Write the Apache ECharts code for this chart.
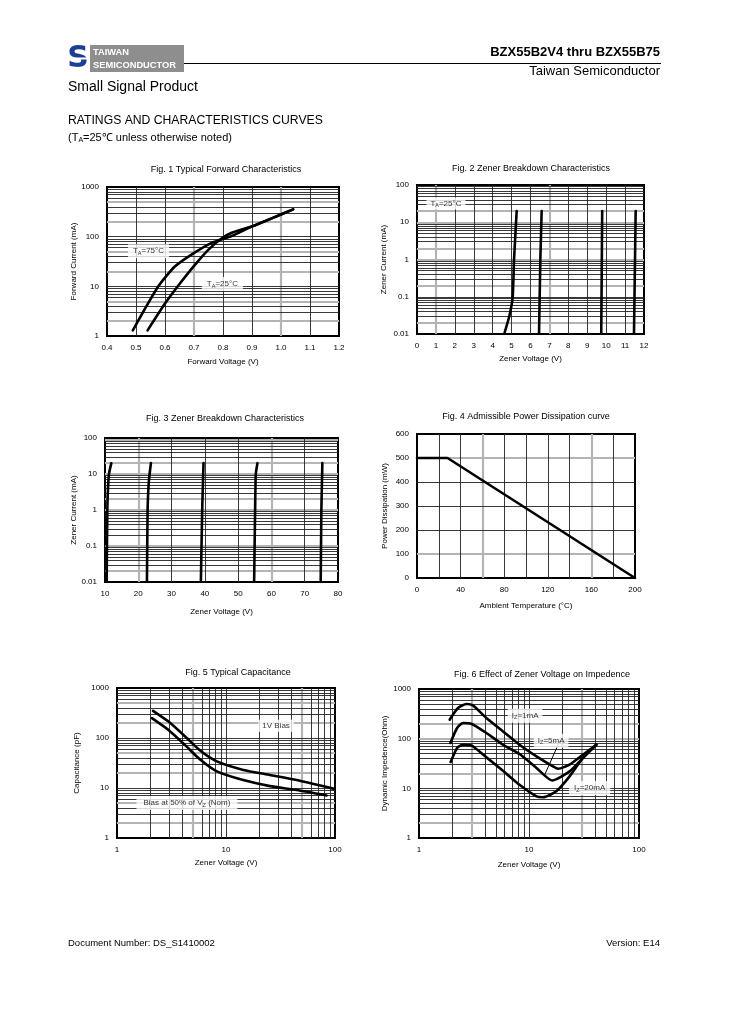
<!DOCTYPE html>
<html><head><meta charset="utf-8">
<script src="https://cdn.jsdelivr.net/npm/echarts@6/dist/echarts.min.js"></script>
<style>html,body{margin:0;padding:0;background:#fff}#c{width:729px;height:1032px}</style>
</head><body><div id="c"></div>
<script>
// ---------- DATA ----------
// Fig 1 Typical Forward Characteristics
const fig1XTicks = [0.4, 0.5, 0.6, 0.7, 0.8, 0.9, 1.0, 1.1, 1.2];
const fig1YTicks = [1, 10, 100, 1000];
const fig1V75 = [0.489, 0.577, 0.634, 0.698, 0.761, 0.83, 0.899, 0.968, 1.042];
const fig1I75 = [1.3, 10, 25, 46, 75, 103, 159, 234, 355];
const fig1V25 = [0.540, 0.6, 0.652, 0.698, 0.75, 0.795, 0.83, 0.9, 0.968, 1.042];
const fig1I25 = [1.3, 4.5, 11.5, 25, 55, 92, 120, 162, 234, 355];
// Fig 2 Zener Breakdown (low voltage)
const fig2XTicks = [0,1,2,3,4,5,6,7,8,9,10,11,12];
const fig2YTicks = [0.01, 0.1, 1, 10, 100];
const fig2AV = [4.61, 4.88, 5.06, 5.13, 5.27];  const fig2AI = [0.01, 0.03, 0.1, 1, 20];
const fig2BV = [6.45, 6.52, 6.59];              const fig2BI = [0.01, 1, 20];
const fig2CV = [9.74, 9.79];                    const fig2CI = [0.01, 20];
const fig2DV = [11.47, 11.56];                  const fig2DI = [0.01, 20];
// Fig 3 Zener Breakdown (high voltage)
const fig3XTicks = [10,20,30,40,50,60,70,80];
const fig3YTicks = [0.01, 0.1, 1, 10, 100];
const fig3AV = [10.5, 10.7, 10.9, 11.2, 11.9];  const fig3AI = [0.01, 1, 4, 10, 20];
const fig3BV = [22.6, 22.8, 23.1, 23.4, 23.8];  const fig3BI = [0.01, 1, 5, 10, 20];
const fig3CV = [38.8, 39.2, 39.5, 39.6];        const fig3CI = [0.01, 1, 10, 20];
const fig3DV = [54.8, 55.1, 55.3, 55.8];        const fig3DI = [0.01, 1, 10, 20];
const fig3EV = [74.8, 75.0, 75.3];              const fig3EI = [0.01, 1, 20];
// Fig 4 Admissible Power Dissipation
const fig4XTicks = [0, 40, 80, 120, 160, 200];
const fig4YTicks = [0, 100, 200, 300, 400, 500, 600];
const fig4T = [0, 28, 200];
const fig4P = [500, 500, 0];
// Fig 5 Typical Capacitance
const fig5XTicks = [1, 10, 100];
const fig5YTicks = [1, 10, 100, 1000];
const fig5V1 = [2.14, 2.97, 4.22, 5.79, 8.24, 14.4, 25.3, 44.5, 97.7];
const fig5C1 = [350, 213, 107, 56, 34, 23, 18.2, 14.4, 9.6];
const fig5V2 = [2.09, 2.97, 4.22, 5.79, 8.24, 14.4, 25.3, 44.5, 83.6];
const fig5C2 = [250, 145, 72, 37, 21.5, 14.4, 10.9, 9.1, 7.1];
// Fig 6 Effect of Zener Voltage on Impedance
const fig6XTicks = [1, 10, 100];
const fig6YTicks = [1, 10, 100, 1000];
const fig6V1 = [1.9, 2.26, 2.7, 3.09, 4.1, 5.8, 8.2, 11.7, 16.5, 18.4, 23.4, 30.9, 40.9];
const fig6Z1 = [241, 414, 499, 468, 261, 140, 75.5, 44, 27.7, 24.8, 30, 47.6, 75.5];
const fig6V5 = [1.93, 2.22, 2.51, 2.99, 4.1, 5.8, 8.2, 11.7, 16.2, 23.4, 30.9, 40.9];
const fig6Z5 = [81.8, 164, 207, 200, 130, 75.5, 49, 25.7, 14.4, 21.9, 40.8, 75.5];
const fig6V20 = [1.94, 2.22, 2.51, 2.99, 4.1, 5.8, 8.2, 11.7, 13.4, 17.7, 23.4, 30.9, 40.9];
const fig6Z20 = [33.9, 64.9, 75.5, 73, 42, 22.6, 11.8, 6.9, 6.6, 8.7, 17.4, 40.8, 75.5];
const fig6LeaderV = [18.4, 13.9];
const fig6LeaderZ = [75.5, 18.8];

// ---------- HELPERS ----------
const FONT = '"Liberation Sans", Arial, Helvetica, sans-serif';
const zip = (a, b) => a.map((v, i) => [v, b[i]]);
const DARK = { color: '#222', width: 0.9, type: 'solid' };
const GRAY = { color: '#b4b4b4', width: 2.2, type: 'solid' };
const near = (arr, v) => arr.some(g => Math.abs(g - v) < 1e-9 * Math.max(1, Math.abs(v)));
function logLines(minV, maxV) {
  const out = [];
  for (let d = minV; d < maxV * 0.999; d *= 10) {
    for (let k = 1; k <= 9; k++) {
      const v = +(d * k).toPrecision(6);
      if (v > minV * 1.0001 && v < maxV * 0.9999) out.push(v);
    }
  }
  return out;
}
function linLines(ticks) { return ticks.slice(1, -1); }
function gridSeries(idx, xs, ys, grayX, grayY) {
  const data = [];
  const push = (axis, v, isGray) => data.push({ [axis]: v, lineStyle: isGray ? GRAY : DARK });
  xs.filter(v => near(grayX, v)).forEach(v => push('xAxis', v, true));
  ys.filter(v => near(grayY, v)).forEach(v => push('yAxis', v, true));
  xs.filter(v => !near(grayX, v)).forEach(v => push('xAxis', v, false));
  ys.filter(v => !near(grayY, v)).forEach(v => push('yAxis', v, false));
  return {
    type: 'line', xAxisIndex: idx, yAxisIndex: idx, data: [], z: 1, silent: true,
    markLine: { z: 1, silent: true, symbol: ['none', 'none'], label: { show: false },
      animation: false, emphasis: { disabled: true }, data }
  };
}
function curve(idx, xs, ys, smooth) {
  return { type: 'line', xAxisIndex: idx, yAxisIndex: idx, data: zip(xs, ys), symbol: 'none',
    smooth: smooth || false, z: 3, silent: true, animation: false,
    lineStyle: { color: '#000', width: 2.6, cap: 'round', join: 'round' } };
}
const richLbl = {
  s: { fontSize: 5.5, fontFamily: FONT, color: '#000', padding: [4, 0, 0, 0] }
};
function label(idx, x, y, text, pad) {
  return { type: 'scatter', xAxisIndex: idx, yAxisIndex: idx, symbolSize: 0, z: 4, silent: true,
    animation: false,
    data: [[x, y]],
    label: { show: true, position: 'inside', formatter: text, fontSize: 8, fontFamily: FONT, color: '#000',
      backgroundColor: '#fff', padding: pad || [1, 4], rich: richLbl } };
}
const fmt = v => String(+(+v).toPrecision(4));
function xAx(idx, type, min, max, name, interval, extra) {
  return Object.assign({
    gridIndex: idx, type, min, max, interval, logBase: 10,
    name, nameLocation: 'middle', nameGap: 21,
    nameTextStyle: { fontSize: 8, fontFamily: FONT, color: '#000' },
    axisLine: { show: true, lineStyle: { color: '#000', width: 2 } },
    axisTick: { show: false }, splitLine: { show: false },
    axisLabel: { fontSize: 8, fontFamily: FONT, color: '#000', margin: 8, formatter: fmt, showMinLabel: true, showMaxLabel: true }
  }, extra || {});
}
function yAx(idx, type, min, max, name, nameGap, interval, extra) {
  return Object.assign({
    gridIndex: idx, type, min, max, interval, logBase: 10,
    name, nameLocation: 'middle', nameGap, nameRotate: 90,
    nameTextStyle: { fontSize: 8, fontFamily: FONT, color: '#000' },
    axisLine: { show: true, lineStyle: { color: '#000', width: 2 } },
    axisTick: { show: false }, splitLine: { show: false },
    axisLabel: { fontSize: 8, fontFamily: FONT, color: '#000', margin: 8, formatter: fmt, showMinLabel: true, showMaxLabel: true }
  }, extra || {});
}
const gridBase = { show: true, borderColor: '#000', borderWidth: 2, backgroundColor: 'transparent', containLabel: false };

// ---------- PAGE TEXT ----------
function txt(x, y, text, size, opts) {
  return Object.assign({ type: 'text', x, y, silent: true,
    style: Object.assign({ text, fontSize: size, fontFamily: FONT, fill: '#000', align: 'left', verticalAlign: 'middle' }, (opts && opts.style) || {}) },
    opts && opts.el || {});
}
const graphics = [
  // logo
  txt(78, 59, 'S', 30, { style: { fill: '#1d3f93', fontWeight: 'bold', align: 'center', fontFamily: '"DejaVu Sans", sans-serif' } }),
  { type: 'rect', shape: { x: 69, y: 57.5, width: 18, height: 2 }, style: { fill: '#fff' } },
  { type: 'rect', shape: { x: 90, y: 45, width: 94, height: 27 }, style: { fill: '#8e8e8e' } },
  txt(93, 52, 'TAIWAN', 9.3, { style: { fill: '#fff', fontWeight: 'bold' } }),
  txt(93, 65, 'SEMICONDUCTOR', 9.3, { style: { fill: '#fff', fontWeight: 'bold' } }),
  { type: 'line', shape: { x1: 184, y1: 63.5, x2: 661, y2: 63.5 }, style: { stroke: '#000', lineWidth: 1 } },
  txt(660, 52, 'BZX55B2V4 thru BZX55B75', 13, { style: { align: 'right', fontWeight: 'bold' } }),
  txt(660, 71, 'Taiwan Semiconductor', 13, { style: { align: 'right' } }),
  txt(68, 87, 'Small Signal Product', 14),
  txt(68, 121, 'RATINGS AND CHARACTERISTICS CURVES', 12.2),
  { type: 'text', x: 68, y: 138, silent: true, style: { text: '(T{s|A}=25℃ unless otherwise noted)', fontSize: 11, fontFamily: FONT, fill: '#000', verticalAlign: 'middle',
      rich: { s: { fontSize: 7, fontFamily: FONT, padding: [4, 0, 0, 0] } } } },
  txt(68, 943, 'Document Number: DS_S1410002', 9.5),
  txt(660, 943, 'Version: E14', 9.5, { style: { align: 'right' } }),
  // figure titles
  txt(226, 170, 'Fig. 1 Typical Forward Characteristics', 9, { style: { align: 'center' } }),
  txt(531, 169, 'Fig. 2 Zener Breakdown Characteristics', 9, { style: { align: 'center' } }),
  txt(225, 419, 'Fig. 3 Zener Breakdown Characteristics', 9, { style: { align: 'center' } }),
  txt(526, 417, 'Fig. 4 Admissible Power Dissipation curve', 9, { style: { align: 'center' } }),
  txt(238, 673, 'Fig. 5 Typical Capacitance', 9, { style: { align: 'center' } }),
  txt(542, 675, 'Fig. 6 Effect of Zener Voltage on Impedence', 9, { style: { align: 'center' } })
];

// ---------- OPTION ----------
const option = {
  backgroundColor: '#fff',
  animation: false,
  graphic: graphics,
  grid: [
    Object.assign({ left: 107, top: 187, width: 232, height: 149 }, gridBase),
    Object.assign({ left: 417, top: 185, width: 227, height: 149 }, gridBase),
    Object.assign({ left: 105, top: 438, width: 233, height: 144 }, gridBase),
    Object.assign({ left: 417, top: 434, width: 218, height: 144 }, gridBase),
    Object.assign({ left: 117, top: 688, width: 218, height: 150 }, gridBase),
    Object.assign({ left: 419, top: 689, width: 220, height: 149 }, gridBase)
  ],
  xAxis: [
    xAx(0, 'value', fig1XTicks[0], fig1XTicks[fig1XTicks.length - 1], 'Forward Voltage (V)', 0.1, { nameGap: 22, axisLabel: { fontSize: 8, fontFamily: FONT, color: '#000', margin: 8, formatter: v => (+v).toFixed(1) } }),
    xAx(1, 'value', fig2XTicks[0], fig2XTicks[fig2XTicks.length - 1], 'Zener Voltage (V)', 1, { nameGap: 21 }),
    xAx(2, 'value', fig3XTicks[0], fig3XTicks[fig3XTicks.length - 1], 'Zener Voltage (V)', 10, { nameGap: 26 }),
    xAx(3, 'value', fig4XTicks[0], fig4XTicks[fig4XTicks.length - 1], 'Ambient Temperature (°C)', 40, { nameGap: 24 }),
    xAx(4, 'log', fig5XTicks[0], fig5XTicks[fig5XTicks.length - 1], 'Zener Voltage (V)', undefined, { nameGap: 21 }),
    xAx(5, 'log', fig6XTicks[0], fig6XTicks[fig6XTicks.length - 1], 'Zener Voltage (V)', undefined, { nameGap: 23 })
  ],
  yAxis: [
    yAx(0, 'log', fig1YTicks[0], fig1YTicks[fig1YTicks.length - 1], 'Forward Current (mA)', 25),
    yAx(1, 'log', fig2YTicks[0], fig2YTicks[fig2YTicks.length - 1], 'Zener Current (mA)', 29),
    yAx(2, 'log', fig3YTicks[0], fig3YTicks[fig3YTicks.length - 1], 'Zener Current (mA)', 25),
    yAx(3, 'value', fig4YTicks[0], fig4YTicks[fig4YTicks.length - 1], 'Power Dissipation (mW)', 28, 100),
    yAx(4, 'log', fig5YTicks[0], fig5YTicks[fig5YTicks.length - 1], 'Capacitance (pF)', 36),
    yAx(5, 'log', fig6YTicks[0], fig6YTicks[fig6YTicks.length - 1], 'Dynamic Impedence(Ohm)', 30)
  ],
  series: [
    // grid lines
    gridSeries(0, linLines(fig1XTicks), logLines(1, 1000), [0.7, 1.0], [2, 20, 200, 5, 50, 500]),
    gridSeries(1, linLines(fig2XTicks), logLines(0.01, 100), [1, 7], [0.02, 0.2, 1, 2, 10, 20]),
    gridSeries(2, linLines(fig3XTicks), logLines(0.01, 100), [20, 60], [0.1, 0.02, 1, 2, 10, 20, 90]),
    gridSeries(3, [20, 40, 60, 80, 100, 120, 140, 160, 180], linLines(fig4YTicks), [60, 160], [100, 500]),
    gridSeries(4, logLines(1, 100), logLines(1, 1000), [5, 50], [2, 20, 200, 5, 50, 500]),
    gridSeries(5, logLines(1, 100), logLines(1, 1000), [3, 30], [2, 20, 200, 100]),
    // curves
    curve(0, fig1V75, fig1I75, 0.2),
    curve(0, fig1V25, fig1I25, 0.2),
    curve(1, fig2AV, fig2AI, 0.15),
    curve(1, fig2BV, fig2BI),
    curve(1, fig2CV, fig2CI),
    curve(1, fig2DV, fig2DI),
    curve(2, fig3AV, fig3AI, 0.2),
    curve(2, fig3BV, fig3BI, 0.2),
    curve(2, fig3CV, fig3CI, 0.2),
    curve(2, fig3DV, fig3DI, 0.2),
    curve(2, fig3EV, fig3EI),
    curve(3, fig4T, fig4P),
    curve(4, fig5V1, fig5C1, 0.2),
    curve(4, fig5V2, fig5C2, 0.2),
    curve(5, fig6V1, fig6Z1, 0.2),
    curve(5, fig6V5, fig6Z5, 0.2),
    curve(5, fig6V20, fig6Z20, 0.2),
    Object.assign(curve(5, fig6LeaderV, fig6LeaderZ), { lineStyle: { color: '#000', width: 1 } }),
    // labels
    label(0, 0.543, 51, 'T{s|A}=75°C', [2, 5]),
    label(0, 0.798, 11.1, 'T{s|A}=25°C', [2, 5]),
    label(1, 1.53, 32, 'T{s|A}=25°C', [1, 4]),
    label(4, 28.8, 175, '1V Bias', [2, 4]),
    label(4, 4.38, 5.0, 'Bias at 50% of V{s|Z} (Nom)', [2, 7]),
    label(5, 9.23, 290, 'I{s|Z}=1mA', [2, 4]),
    label(5, 15.9, 91, 'I{s|Z}=5mA', [2, 4]),
    label(5, 35.6, 10.1, 'I{s|Z}=20mA', [2, 5])
  ]
};
const chart = echarts.init(document.getElementById('c'), null, { renderer: 'canvas', width: 729, height: 1032 });
chart.setOption(option);
</script>
</body></html>
